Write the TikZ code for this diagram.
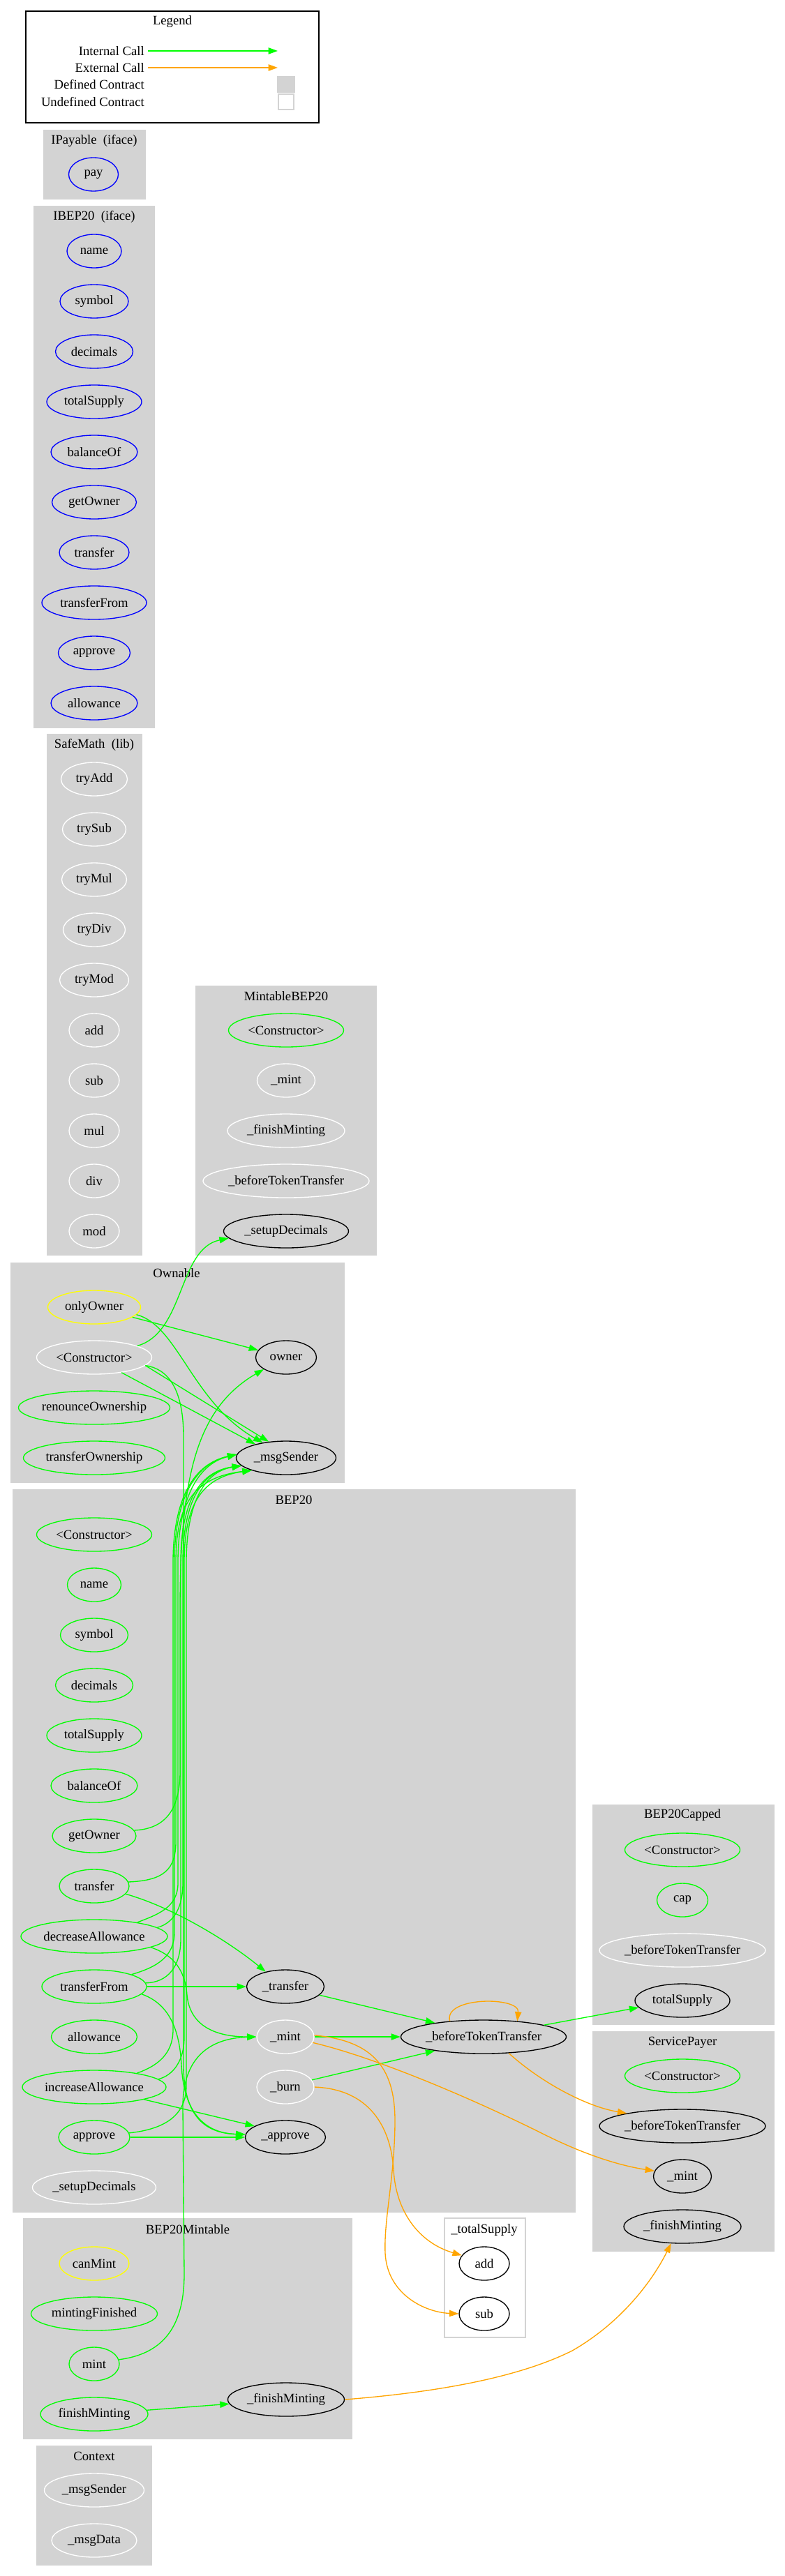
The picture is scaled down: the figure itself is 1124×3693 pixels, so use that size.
\documentclass[tikz,border=0pt]{standalone}
\usepackage{fontspec}
\setmainfont{Liberation Serif}
\usetikzlibrary{shapes.geometric,arrows.meta}
\definecolor{cgreen}{HTML}{00FF00}
\definecolor{corange}{HTML}{FFA500}
\definecolor{cyellow}{HTML}{FFFF00}
\definecolor{cblue}{HTML}{0000FF}
\definecolor{cgray}{HTML}{D3D3D3}
\begin{document}
\begin{tikzpicture}[x=0.75pt,y=-0.75pt,
  every node/.style={font=\fontsize{14}{16.8}\selectfont},
  fn/.style={ellipse, draw=#1, line width=1pt, inner sep=0pt, minimum height=36pt},
  wd/.style={minimum width=#1*0.75pt},
  cl/.style={fill=cgray, draw=cgray},
  callI/.style={cgreen, line width=1pt, -{Triangle[length=10pt,width=7pt]}},
  callE/.style={corange, line width=1pt, -{Triangle[length=10pt,width=7pt]}}]
\fill[white] (0,0) rectangle (1124,3693);
\useasboundingbox (0,0) rectangle (1124,3693);

% ---------- Legend ----------
\draw[line width=1pt] (37,16) rectangle (457,176);
\node (lgTitle) at (247,31) {Legend};
\node[anchor=east, inner sep=0pt] (lgT1) at (207,73) {Internal Call};
\node[anchor=east, inner sep=0pt] (lgT2) at (207,97) {External Call};
\node[anchor=east, inner sep=0pt] (lgT3) at (207,121) {Defined Contract};
\node[anchor=east, inner sep=0pt] (lgT4) at (207,146) {Undefined Contract};
\coordinate (lgA1) at (212,73); \coordinate (lgA2) at (398,73);
\coordinate (lgB1) at (212,97); \coordinate (lgB2) at (398,97);
\draw[callI] (lgA1) -- (lgA2);
\draw[callE] (lgB1) -- (lgB2);
\fill[cgray] (397,109) rectangle (423,133);
\draw[cgray, line width=1pt, fill=white] (399,135) rectangle (421,157);

% ---------- Clusters ----------
\filldraw[cl] (62,186) rectangle (208,285);
\filldraw[cl] (48,295) rectangle (221,1043);
\filldraw[cl] (67,1052) rectangle (203,1799);
\filldraw[cl] (280,1413) rectangle (539,1799);
\filldraw[cl] (15,1810) rectangle (493,2125);
\filldraw[cl] (18,2135) rectangle (824,3171);
\filldraw[cl] (849,2587) rectangle (1109,2902);
\filldraw[cl] (849,2912) rectangle (1109,3227);
\filldraw[cl] (33,3180) rectangle (504,3496);
\draw[cgray, line width=1pt, fill=white] (637,3180) rectangle (753,3351);
\filldraw[cl] (52,3506) rectangle (217,3677);

% ---------- Cluster titles ----------
\node (tIPay) at (135,202) {IPayable\ \ (iface)};
\node (tIBEP) at (135,311) {IBEP20\ \ (iface)};
\node (tSafe) at (135,1068) {SafeMath\ \ (lib)};
\node (tMintable) at (410,1428) {MintableBEP20};
\node (tOwnable) at (253,1825) {Ownable};
\node (tBEP) at (421,2150) {BEP20};
\node (tCapped) at (978,2602) {BEP20Capped};
\node (tService) at (978,2928) {ServicePayer};
\node (tBMintable) at (269,3196) {BEP20Mintable};
\node (tTotal) at (694,3197) {\_totalSupply};
\node (tContext) at (135,3521) {Context};

% ---------- IPayable ----------
\node[fn=cblue, wd=71] (ipPay) at (134,250) {pay};

% ---------- IBEP20 ----------
\node[fn=cblue, wd=78]  (ibName) at (135,360) {name};
\node[fn=cblue, wd=98]  (ibSymbol) at (135,432) {symbol};
\node[fn=cblue, wd=111] (ibDecimals) at (135,504) {decimals};
\node[fn=cblue, wd=136] (ibTotal) at (135,576) {totalSupply};
\node[fn=cblue, wd=124] (ibBalance) at (135,648) {balanceOf};
\node[fn=cblue, wd=121] (ibGetOwner) at (135,720) {getOwner};
\node[fn=cblue, wd=100] (ibTransfer) at (135,792) {transfer};
\node[fn=cblue, wd=150] (ibTransferFrom) at (135,864) {transferFrom};
\node[fn=cblue, wd=103] (ibApprove) at (135,936) {approve};
\node[fn=cblue, wd=124] (ibAllowance) at (135,1008) {allowance};

% ---------- SafeMath ----------
\node[fn=white, wd=95] (smTryAdd) at (135,1117) {tryAdd};
\node[fn=white, wd=91] (smTrySub) at (135,1189) {trySub};
\node[fn=white, wd=93] (smTryMul) at (135,1261) {tryMul};
\node[fn=white, wd=89] (smTryDiv) at (135,1333) {tryDiv};
\node[fn=white, wd=99] (smTryMod) at (135,1405) {tryMod};
\node[fn=white, wd=72] (smAdd) at (135,1477) {add};
\node[fn=white, wd=72] (smSub) at (135,1549) {sub};
\node[fn=white, wd=72] (smMul) at (135,1621) {mul};
\node[fn=white, wd=72] (smDiv) at (135,1693) {div};
\node[fn=white, wd=72] (smMod) at (135,1765) {mod};

% ---------- MintableBEP20 ----------
\node[fn=cgreen, wd=165] (mbCtor) at (410,1477) {<Constructor>};
\node[fn=white, wd=83] (mbMint) at (410,1549) {\_mint};
\node[fn=white, wd=168] (mbFinish) at (410,1621) {\_finishMinting};
\node[fn=white, wd=238] (mbBTT) at (410,1693) {\_beforeTokenTransfer};
\node[fn=black, wd=179] (mbSetup) at (410,1765) {\_setupDecimals};

% ---------- Ownable ----------
\node[fn=cyellow, wd=133] (owOnly) at (135,1874) {onlyOwner};
\node[fn=white, wd=165] (owCtor) at (135,1946) {<Constructor>};
\node[fn=cgreen, wd=217] (owRenounce) at (135,2018) {renounceOwnership};
\node[fn=cgreen, wd=203] (owTransferO) at (135,2090) {transferOwnership};
\node[fn=black, wd=87] (owOwner) at (410,1946) {owner};
\node[fn=black, wd=143] (owMsg) at (410,2090) {\_msgSender};

% ---------- BEP20 ----------
\node[fn=cgreen, wd=165] (bCtor) at (135,2200) {<Constructor>};
\node[fn=cgreen, wd=77] (bName) at (135,2272) {name};
\node[fn=cgreen, wd=97] (bSymbol) at (135,2344) {symbol};
\node[fn=cgreen, wd=111] (bDecimals) at (135,2416) {decimals};
\node[fn=cgreen, wd=136] (bTotal) at (135,2488) {totalSupply};
\node[fn=cgreen, wd=124] (bBalance) at (135,2560) {balanceOf};
\node[fn=cgreen, wd=120] (bGetOwner) at (135,2632) {getOwner};
\node[fn=cgreen, wd=100] (bTransfer) at (135,2704) {transfer};
\node[fn=cgreen, wd=210] (bDecA) at (135,2776) {decreaseAllowance};
\node[fn=cgreen, wd=150] (bTrF) at (135,2848) {transferFrom};
\node[fn=cgreen, wd=123] (bAllow) at (135,2920) {allowance};
\node[fn=cgreen, wd=206] (bIncA) at (135,2992) {increaseAllowance};
\node[fn=cgreen, wd=102] (bAppr) at (135,3064) {approve};
\node[fn=white, wd=177] (bSetup) at (135,3136) {\_setupDecimals};
\node[fn=black, wd=111] (bTransferI) at (409,2848) {\_transfer};
\node[fn=white, wd=82] (bMint) at (409,2920) {\_mint};
\node[fn=white, wd=82] (bBurn) at (409,2992) {\_burn};
\node[fn=black, wd=115] (bApprove) at (409,3064) {\_approve};
\node[fn=black, wd=237] (bBTT) at (693,2920) {\_beforeTokenTransfer};

% ---------- BEP20Capped ----------
\node[fn=cgreen, wd=165] (capCtor) at (978,2652) {<Constructor>};
\node[fn=cgreen, wd=73] (capCap) at (978,2724) {cap};
\node[fn=white, wd=238] (capBTT) at (978,2796) {\_beforeTokenTransfer};
\node[fn=black, wd=136] (capTotal) at (978,2868) {totalSupply};

% ---------- ServicePayer ----------
\node[fn=cgreen, wd=165] (spCtor) at (978,2976) {<Constructor>};
\node[fn=black, wd=238] (spBTT) at (978,3048) {\_beforeTokenTransfer};
\node[fn=black, wd=83] (spMint) at (978,3120) {\_mint};
\node[fn=black, wd=168] (spFinish) at (978,3192) {\_finishMinting};

% ---------- BEP20Mintable ----------
\node[fn=cyellow, wd=100] (bmCan) at (135,3245) {canMint};
\node[fn=cgreen, wd=181] (bmMF) at (135,3317) {mintingFinished};
\node[fn=cgreen, wd=72] (bmMint) at (135,3389) {mint};
\node[fn=cgreen, wd=154] (bmFinishM) at (135,3461) {finishMinting};
\node[fn=black, wd=167] (bmFinishI) at (410,3440) {\_finishMinting};

% ---------- _totalSupply ----------
\node[fn=black, wd=72] (tsAdd) at (694,3245) {add};
\node[fn=black, wd=72] (tsSub) at (694,3317) {sub};

% ---------- Context ----------
\node[fn=white, wd=143] (cxMsg) at (135,3570) {\_msgSender};
\node[fn=white, wd=122] (cxData) at (135,3642) {\_msgData};

% ---------- Edges: Ownable ----------
\draw[callI] (owOnly) -- (owOwner);
\draw[callI] (owOnly.-10) .. controls (255,1900) and (275,2010) .. (owMsg.147);
\draw[callI] (owCtor.-29) -- (owMsg.156);
\draw[callI] (owCtor.-9) -- (owMsg.137);
\draw[callI] (owCtor.15) .. controls (265,1910) and (255,1790) .. (mbSetup.187);
\draw[callI] (owCtor.-9) .. controls (240,1962) and (263,1990) .. (263,2060) -- (263,2960) .. controls (263,3030) and (290,3058) .. (bApprove.176);

% ---------- Edges: BEP20 up the corridor ----------
\draw[callI] (bGetOwner.8) .. controls (240,2622) and (258,2590) .. (258,2540) -- (258,2300) .. controls (259,2120) and (280,2020) .. (owOwner.208);
\draw[callI] (bTransfer.7) .. controls (235,2696) and (252,2680) .. (252,2640) -- (252,2240) .. controls (252,2160) and (275,2118) .. (owMsg.200);
\draw[callI] (bDecA.18) .. controls (225,2745) and (255,2735) .. (255,2700) -- (255,2240) .. controls (255,2160) and (278,2100) .. (owMsg.176);
\draw[callI] (bDecA.8) .. controls (245,2758) and (262,2740) .. (262,2700) -- (262,2240) .. controls (262,2160) and (285,2110) .. (owMsg.190);
\draw[callI] (bTrF.18) .. controls (225,2820) and (250,2805) .. (250,2770) -- (250,2240) .. controls (250,2160) and (273,2100) .. (owMsg.176);
\draw[callI] (bTrF.4) .. controls (240,2842) and (259,2820) .. (259,2780) -- (259,2240) .. controls (259,2160) and (282,2110) .. (owMsg.190);
\draw[callI] (bIncA.18) .. controls (225,2962) and (248,2945) .. (248,2910) -- (248,2240) .. controls (248,2160) and (271,2100) .. (owMsg.176);
\draw[callI] (bIncA.7) .. controls (248,2975) and (264,2955) .. (264,2920) -- (264,2240) .. controls (264,2160) and (287,2118) .. (owMsg.200);
\draw[callI] (bAppr.7) .. controls (240,3052) and (267,3030) .. (267,2990) -- (267,2240) .. controls (267,2160) and (290,2110) .. (owMsg.190);

% ---------- Edges: BEP20 internal ----------
\draw[callI] (bTransfer.-14) .. controls (250,2735) and (330,2785) .. (bTransferI.143);
\draw[callI] (bTrF) -- (bTransferI);
\draw[callI] (bTrF.-9) .. controls (240,2872) and (257,2905) .. (260,2960) .. controls (263,3025) and (290,3058) .. (bApprove.176);
\draw[callI] (bDecA.-11) .. controls (250,2803) and (265,2825) .. (268,2860) .. controls (272,2905) and (310,2920) .. (bMint.west);
\draw[callI] (bIncA.-14) -- (bApprove.160);
\draw[callI] (bAppr) -- (bApprove);
\draw[callI] (bmMint.10) .. controls (230,3375) and (264,3340) .. (264,3260) -- (262,3020) .. controls (262,2950) and (300,2922) .. (bMint.west);
\draw[callI] (bTransferI.-14) -- (bBTT.164);
\draw[callI] (bMint) -- (bBTT);
\draw[callI] (bBurn.15) -- (bBTT.196);
\draw[callE] (bBTT.155) .. controls (635,2862) and (745,2862) .. (bBTT.25);
\draw[callI] (bBTT.11) -- (capTotal.189);
\draw[callE] (bBTT.-33) .. controls (775,2985) and (840,3020) .. (spBTT.167);
\draw[callE] (bMint.-12) .. controls (540,2950) and (680,3010) .. (780,3060) .. controls (840,3090) and (890,3105) .. (spMint.169);
\draw[callE] (bMint.3) .. controls (530,2925) and (566,2960) .. (566,3040) .. controls (566,3120) and (550,3180) .. (552,3230) .. controls (555,3290) and (610,3315) .. (tsSub.180);
\draw[callE] (bBurn.east) .. controls (530,2995) and (560,3050) .. (564,3110) .. controls (567,3170) and (600,3215) .. (tsAdd.160);

% ---------- Edges: BEP20Mintable ----------
\draw[callI] (bmFinishM) -- (bmFinishI);
\draw[callE] (bmFinishI.east) .. controls (620,3430) and (740,3410) .. (820,3370) .. controls (890,3330) and (935,3270) .. (spFinish.236);
\end{tikzpicture}
\end{document}
